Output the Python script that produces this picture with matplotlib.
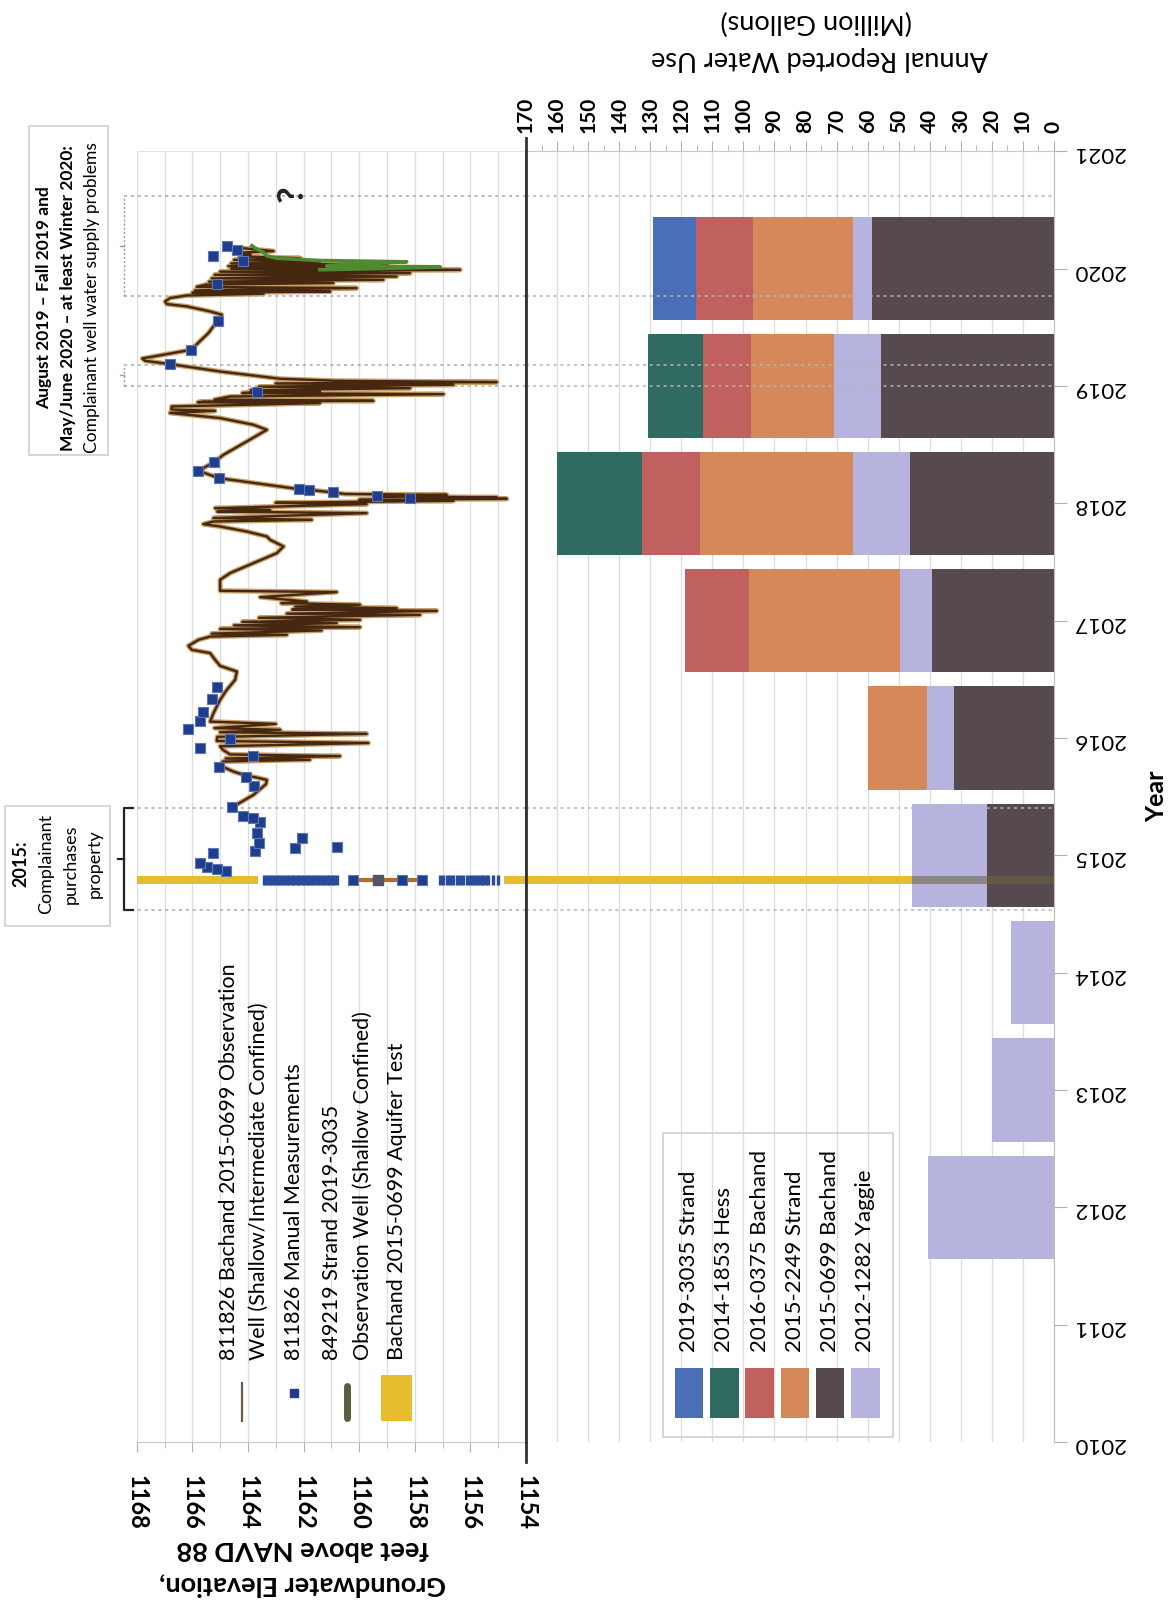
import matplotlib.pyplot as plt
import matplotlib.transforms as mtransforms
from matplotlib.lines import Line2D
from matplotlib.patches import Rectangle
from matplotlib.ticker import MultipleLocator

plt.rcParams['font.family'] = ['Lato', 'DejaVu Sans']

W, H = 1170, 1604

# annual reported water use by right (million gallons)
use_years = [2012, 2013, 2014, 2015, 2016, 2017, 2018, 2019, 2020]
bachand_0699 = [0, 0, 0, 21.6, 32.3, 39.2, 46.5, 55.8, 58.7]
yaggie_1282 = [40.5, 19.9, 13.9, 24.1, 8.5, 10.3, 18.3, 14.9, 6.1]
strand_2249 = [0, 0, 0, 0, 19.0, 48.8, 49.1, 26.8, 32.0]
bachand_0375 = [0, 0, 0, 0, 0, 20.6, 18.6, 15.6, 18.6]
hess_1853 = [0, 0, 0, 0, 0, 0, 27.5, 17.6, 0]
strand_3035 = [0, 0, 0, 0, 0, 0, 0, 0, 13.8]

# 811826 Bachand 2015-0699 observation well, logger record
gw_time = [
    2015.416, 2015.516, 2015.607, 2015.643, 2015.663, 2015.680, 2015.714, 2015.765, 2015.800, 2015.815,
    2015.825, 2015.846, 2015.860, 2015.900, 2015.930, 2015.958, 2015.975, 2016.010, 2016.036, 2016.050,
    2016.070, 2016.085, 2016.120, 2016.140, 2016.212, 2016.326, 2016.411, 2016.496, 2016.567, 2016.615,
    2016.667, 2016.724, 2016.752, 2016.786, 2016.837, 2016.865,
    2016.880, 2016.890, 2016.917, 2016.930, 2016.945, 2016.960, 2016.979, 2016.990, 2017.008, 2017.025,
    2017.050, 2017.060, 2017.084, 2017.095, 2017.107, 2017.120, 2017.136, 2017.150, 2017.163, 2017.201,
    2017.244, 2017.255, 2017.263, 2017.349, 2017.406, 2017.491, 2017.576, 2017.633, 2017.689, 2017.718,
    2017.760, 2017.803, 2017.823, 2017.846, 2017.860, 2017.875, 2017.917, 2017.930, 2017.945, 2017.959,
    2017.994, 2018.005, 2018.022, 2018.030, 2018.039, 2018.045, 2018.052, 2018.059, 2018.073, 2018.080,
    2018.093, 2018.116, 2018.122, 2018.215, 2018.278, 2018.352, 2018.414, 2018.528, 2018.627, 2018.670,
    2018.727, 2018.771, 2018.789, 2018.800, 2018.826, 2018.855, 2018.862, 2018.868, 2018.874, 2018.885,
    2018.911, 2018.931, 2018.940, 2018.948, 2018.954, 2018.965, 2018.982, 2018.995, 2019.011, 2019.022,
    2019.034, 2019.045, 2019.062, 2019.124, 2019.187, 2019.215, 2019.235, 2019.260, 2019.309, 2019.452,
    2019.557, 2019.608, 2019.636, 2019.679, 2019.699, 2019.721, 2019.750, 2019.772,
    2019.787, 2019.795, 2019.806, 2019.815, 2019.835, 2019.845, 2019.865, 2019.878, 2019.890, 2019.906,
    2019.918, 2019.934, 2019.948, 2019.963, 2019.975, 2019.991, 2020.000, 2020.011, 2020.022, 2020.034,
    2020.045, 2020.060, 2020.075, 2020.090, 2020.105, 2020.120, 2020.135, 2020.150, 2020.180,
]
gw_elev = [
    1164.52, 1163.80, 1163.35, 1163.32, 1163.68, 1164.07, 1164.52, 1165.00, 1164.90, 1161.77,
    1164.80, 1160.69, 1164.64, 1164.90, 1165.00, 1159.67, 1165.12, 1165.10, 1159.73, 1165.00,
    1162.84, 1165.20, 1163.00, 1165.36, 1165.24, 1165.00, 1164.76, 1164.46, 1164.40, 1165.00,
    1165.18, 1165.36, 1166.02, 1166.14, 1165.78, 1165.36,
    1162.60, 1165.30, 1161.35, 1165.00, 1159.97, 1164.50, 1160.81, 1164.20, 1159.97, 1163.60,
    1157.81, 1162.60, 1157.21, 1162.40, 1158.65, 1162.30, 1159.97, 1162.80, 1161.88, 1163.56,
    1160.81, 1165.00, 1165.00, 1165.00, 1164.64, 1163.80, 1162.96, 1162.72, 1163.20, 1163.32,
    1164.04, 1165.00, 1165.60, 1165.24, 1161.71, 1165.24, 1159.73, 1165.10, 1163.20, 1165.18,
    1159.73, 1163.00, 1156.61, 1160.00, 1154.69, 1158.20, 1155.05, 1159.37, 1156.85, 1160.50,
    1160.93, 1161.82, 1162.18, 1165.04, 1165.78, 1165.21, 1164.88, 1164.04, 1163.32, 1163.80,
    1165.00, 1166.80, 1165.18, 1166.75, 1166.74, 1161.41, 1165.80, 1165.60, 1159.49, 1165.20,
    1164.64, 1156.97, 1164.20, 1163.68, 1161.41, 1163.90, 1158.17, 1163.60, 1156.61, 1163.00,
    1155.05, 1160.81, 1162.84, 1165.00, 1166.80, 1167.70, 1167.80, 1167.20, 1166.05, 1165.42,
    1165.09, 1164.94, 1165.36, 1166.20, 1166.92, 1166.98, 1166.80, 1166.20,
    1163.44, 1166.00, 1161.04, 1165.90, 1160.09, 1165.84, 1165.50, 1160.93, 1165.40, 1159.13,
    1165.30, 1158.65, 1165.20, 1158.17, 1165.00, 1156.37, 1164.60, 1157.09, 1164.70, 1159.01,
    1164.60, 1161.40, 1164.50, 1162.12, 1164.30, 1163.90, 1164.50, 1163.08, 1164.40,
]

# 811826 manual measurements
manual_time = [
    2014.870, 2014.885, 2014.904, 2014.933, 2015.024, 2015.038, 2015.066, 2015.075, 2015.104, 2015.146,
    2015.189, 2015.288, 2015.317, 2015.339, 2015.416, 2015.587, 2015.672, 2015.757, 2015.848, 2015.919,
    2015.993, 2016.078, 2016.141, 2016.226, 2016.331, 2016.439, 2018.050, 2018.059, 2018.093, 2018.116,
    2018.122, 2018.215, 2018.278, 2018.352, 2018.948, 2019.187, 2019.309, 2019.557, 2019.872, 2020.062,
    2020.111, 2020.163, 2020.197,
]
manual_elev = [
    1164.79, 1165.12, 1165.48, 1165.72, 1165.24, 1163.74, 1162.30, 1160.81, 1163.59, 1162.06,
    1163.68, 1163.56, 1163.80, 1164.16, 1164.58, 1163.77, 1164.07, 1165.03, 1163.80, 1165.72,
    1164.64, 1166.14, 1165.72, 1165.60, 1165.30, 1165.12, 1158.17, 1159.37, 1160.93, 1161.82,
    1162.18, 1165.04, 1165.78, 1165.21, 1163.68, 1166.82, 1166.05, 1165.09, 1165.10, 1164.16,
    1165.24, 1164.40, 1164.76,
]

# 849219 Strand 2019-3035 observation well
strand_time = [2019.991, 2020.002, 2020.014, 2020.025, 2020.042, 2020.059, 2020.070, 2020.090,
               2020.110, 2020.139, 2020.167, 2020.196]
strand_elev = [1161.41, 1159.25, 1157.09, 1161.17, 1160.21, 1158.29, 1161.41, 1162.96,
               1163.32, 1163.44, 1163.68, 1163.86]

# Bachand 2015-0699 aquifer test
test_time = 2014.79
test_elev = [1163.44, 1163.35, 1163.26, 1163.17, 1163.08, 1162.96, 1162.87, 1162.78, 1162.69, 1162.60,
             1162.51, 1162.42, 1162.33, 1162.24, 1162.15, 1162.06, 1161.97, 1161.88, 1161.79, 1161.70,
             1161.61, 1161.53, 1161.44, 1161.35, 1161.26, 1161.17, 1161.08, 1160.99, 1160.90, 1160.81,
             1157.09, 1156.97, 1156.85, 1156.73, 1156.61, 1156.49, 1156.37, 1156.25, 1156.13, 1156.01,
             1155.89, 1155.80, 1155.71, 1155.62, 1155.53, 1155.44, 1155.35, 1155.17, 1154.99]
test_big_elev = [1160.21, 1158.47, 1157.75]
test_grey_elev = [1159.31]

# complaint windows
window_2015 = (2014.535, 2015.40)
window_2019 = (2019.00, 2019.18)
window_2020 = (2019.77, 2020.62)

use_series = [
    ("2015-0699 Bachand", bachand_0699, "#574a4f"),
    ("2012-1282 Yaggie", yaggie_1282, "#b6b3de"),
    ("2015-2249 Strand", strand_2249, "#d5895a"),
    ("2016-0375 Bachand", bachand_0375, "#c0605f"),
    ("2014-1853 Hess", hess_1853, "#2f6b60"),
    ("2019-3035 Strand", strand_3035, "#4b6fb6"),
]
legend_order = ["2019-3035 Strand", "2014-1853 Hess", "2016-0375 Bachand",
                "2015-2249 Strand", "2015-0699 Bachand", "2012-1282 Yaggie"]

YELLOW = "#e6bd2e"
NAVY = "#1f3d8c"
GRID = "#dcdcdc"


def fx(x):
    return x / W


def fy(y):
    return 1 - y / H


fig = plt.figure(figsize=(W / 100, H / 100), dpi=100)
left, right, top, bottom = 136.7, 1054, 151.4, 1442
split = 526
ax_gw = fig.add_axes([fx(left), fy(bottom), fx(split - left), (bottom - top) / H])
ax_use = fig.add_axes([fx(split), fy(bottom), fx(right - split), (bottom - top) / H])

# ---- groundwater panel ----
ax_gw.set_xlim(1168, 1154)
ax_gw.set_ylim(2010, 2021)
ax_gw.set_xticks(range(1154, 1169, 2))
ax_gw.xaxis.set_minor_locator(MultipleLocator(1))
ax_gw.set_yticks([])
ax_gw.grid(axis='x', which='both', color=GRID, lw=0.9)
ax_gw.set_axisbelow(True)
ax_gw.tick_params(axis='x', which='major', direction='out', length=7, color='#b0b0b0',
                  labelrotation=270, labelsize=17, pad=17)
ax_gw.tick_params(axis='x', which='minor', direction='out', length=4, color='#b0b0b0')
for t in ax_gw.get_xticklabels():
    t.set_fontweight('bold')
ax_gw.spines['left'].set_visible(False)
ax_gw.spines['top'].set_color('#e0e0e0')
ax_gw.spines['bottom'].set_color('#c8c8c8')
ax_gw.spines['right'].set_color('#333333')
ax_gw.spines['right'].set_linewidth(2)

band_half = 0.033
ax_gw.axhspan(test_time - band_half, test_time + band_half, color=YELLOW, lw=0, zorder=1)
ax_gw.barh(test_time, max(test_elev) - min(test_elev) + 0.4, left=min(test_elev) - 0.2,
           height=band_half * 2.2, color='white', lw=0, zorder=1.5)
ax_gw.plot([max(test_big_elev), min(test_big_elev)], [test_time] * 2, color='#b8682a', lw=3, zorder=4)

ax_gw.plot(gw_elev, gw_time, color='#c9a06a', lw=3.6, zorder=3, solid_joinstyle='round')
ax_gw.plot(gw_elev, gw_time, color='#45280f', lw=1.7, zorder=4, solid_joinstyle='round')
ax_gw.plot(strand_elev, strand_time, color='#4e8a2f', lw=2.6, zorder=5)
ax_gw.plot(manual_elev, manual_time, 's', ms=7, color=NAVY, mec='#5a78b8', mew=0.8, zorder=6)
ax_gw.plot(test_elev, [test_time] * len(test_elev), '|', ms=7, mew=2.4, color='#2a4a9c', zorder=6)
ax_gw.plot(test_big_elev, [test_time] * len(test_big_elev), 's', ms=7, color=NAVY,
           mec='#5a78b8', mew=0.8, zorder=6)
ax_gw.plot(test_grey_elev, [test_time] * len(test_grey_elev), 's', ms=7, color='#55556a', zorder=6)

# complaint windows: dotted limits across both panels plus brackets
for lo, hi in [window_2015, window_2019, window_2020]:
    for yv in (lo, hi):
        ax_gw.axhline(yv, xmin=-0.033, xmax=1, ls=(0, (2, 2.5)), color='#a8a8a8', lw=1.1,
                      clip_on=False, zorder=2)
        ax_use.axhline(yv, ls=(0, (2, 2.5)), color='#b4b4b4', lw=1.1, zorder=3)

tr = mtransforms.blended_transform_factory(ax_gw.transAxes, ax_gw.transData)
bx = -0.0326
lo, hi = window_2015
ax_gw.plot([bx + 0.023, bx, bx, bx + 0.023], [lo, lo, hi, hi], color='#222222', lw=1.6,
           transform=tr, clip_on=False)
ax_gw.plot([bx, bx - 0.015], [(lo + hi) / 2] * 2, color='#222222', lw=1.6, transform=tr, clip_on=False)
for lo, hi in [window_2019, window_2020]:
    ax_gw.plot([bx, bx], [lo, hi], color='#9a9a9a', lw=1.0, ls=(0, (1.5, 1.5)), transform=tr,
               clip_on=False)
    ax_gw.plot([bx, bx - 0.01], [(lo + hi) / 2] * 2, color='#9a9a9a', lw=1.0, transform=tr,
               clip_on=False)
ax_gw.text(1162.42, 2020.64, "?", rotation=90, fontsize=26, fontweight='bold', ha='center',
           va='center', color='#222222')

# ---- water use panel ----
ax_use.set_xlim(170, 0)
ax_use.set_ylim(2010, 2021)
ax_use.xaxis.tick_top()
ax_use.set_xticks(range(0, 171, 10))
ax_use.xaxis.set_minor_locator(MultipleLocator(5))
ax_use.yaxis.tick_right()
ax_use.set_yticks(range(2010, 2022))
ax_use.grid(axis='x', which='major', color=GRID, lw=0.9)
ax_use.set_axisbelow(True)
ax_use.tick_params(axis='x', which='major', direction='out', length=7, color='#b0b0b0',
                   labelrotation=90, labelsize=15, pad=6)
ax_use.tick_params(axis='x', which='minor', direction='out', length=4, color='#b0b0b0')
ax_use.tick_params(axis='y', direction='out', length=9, color='#b0b0b0',
                   labelrotation=180, labelsize=16, pad=5)
for t in ax_use.get_xticklabels():
    t.set_fontweight('bold')
ax_use.spines['bottom'].set_visible(False)
ax_use.spines['left'].set_visible(False)
ax_use.spines['top'].set_color('#c8c8c8')
ax_use.spines['right'].set_color('#bdbdbd')

ax_use.axhspan(test_time - band_half, test_time + band_half, color=YELLOW, lw=0, zorder=1)
base = [0] * len(use_years)
for name, vals, col in use_series:
    ax_use.barh(use_years, vals, left=base, height=0.88, color=col, lw=0, zorder=2)
    base = [b + v for b, v in zip(base, vals)]
total_2015 = base[use_years.index(2015)]
ax_use.barh(test_time, total_2015, height=band_half * 2, color='#6a6440', alpha=0.55, lw=0, zorder=2.5)

# divider between the two panels
fig.add_artist(Line2D([fx(split)] * 2, [fy(138), fy(1462)], color='#333333', lw=2))

# ---- axis titles ----
fig.text(fx(303), fy(1549), "feet above NAVD 88", rotation=180, fontsize=19.5, fontweight='bold',
         ha='center', va='center')
fig.text(fx(303), fy(1585), "Groundwater Elevation,", rotation=180, fontsize=19.5, fontweight='bold',
         ha='center', va='center')
fig.text(fx(820), fy(59), "Annual Reported Water Use", rotation=180, fontsize=19.5,
         ha='center', va='center')
fig.text(fx(816), fy(22), "(Million Gallons)", rotation=180, fontsize=19.5,
         ha='center', va='center')
fig.text(fx(1157), fy(796), "Year", rotation=90, fontsize=18, fontweight='bold',
         ha='center', va='center')

# ---- note boxes ----
fig.add_artist(Rectangle((fx(29), fy(455)), fx(108 - 29), (455 - 126) / H, fill=False,
                         ec='#cfcfcf', lw=1.2))
note_lines = [("August 2019 \u2013 Fall 2019 and", 'bold', 44),
              ("May/June 2020 \u2013 at least Winter 2020:", 'bold', 68),
              ("Complainant well water supply problems", 'normal', 92)]
for txt, wt, xp in note_lines:
    fig.text(fx(xp), fy(298), txt, rotation=90, fontsize=12.5, fontweight=wt,
             ha='center', va='center')

fig.add_artist(Rectangle((fx(5), fy(926)), fx(110 - 5), (926 - 806) / H, fill=False,
                         ec='#cfcfcf', lw=1.2))
for txt, wt, xp in [("2015:", 'bold', 21), ("Complainant", 'normal', 46),
                    ("purchases", 'normal', 71), ("property", 'normal', 95)]:
    fig.text(fx(xp), fy(864), txt, rotation=90, fontsize=13, fontweight=wt,
             ha='center', va='center')

# ---- groundwater legend ----
fig.add_artist(Line2D([fx(242)] * 2, [fy(1383), fy(1421)], color='#6b5a48', lw=1.6))
fig.add_artist(Line2D([fx(294)], [fy(1393)], marker='s', ms=6, color=NAVY, lw=0))
fig.add_artist(Line2D([fx(347)] * 2, [fy(1386), fy(1418)], color='#56603f', lw=5,
                      solid_capstyle='round'))
fig.add_artist(Rectangle((fx(381), fy(1421)), fx(31), 46 / H, color=YELLOW, lw=0))
for txt, xp in [("811826 Bachand 2015-0699 Observation", 229),
                ("Well (Shallow/Intermediate Confined)", 259),
                ("811826 Manual Measurements", 294),
                ("849219 Strand 2019-3035", 332),
                ("Observation Well (Shallow Confined)", 363),
                ("Bachand 2015-0699 Aquifer Test", 397)]:
    fig.text(fx(xp), fy(1360), txt, rotation=90, fontsize=15.5, ha='center', va='bottom')

# ---- water use legend ----
fig.add_artist(Rectangle((fx(663), fy(1437)), fx(893 - 663), (1437 - 1133) / H, fill=False,
                         ec='#cfcfcf', lw=1.2))
colors = {name: col for name, _, col in use_series}
for i, name in enumerate(legend_order):
    x0 = 675 + i * 35.2
    fig.add_artist(Rectangle((fx(x0), fy(1418)), fx(28.5), 50 / H, color=colors[name], lw=0))
    fig.text(fx(x0 + 14.2), fy(1352), name, rotation=90, fontsize=16, ha='center', va='bottom')

fig.savefig("out.png", dpi=100)
